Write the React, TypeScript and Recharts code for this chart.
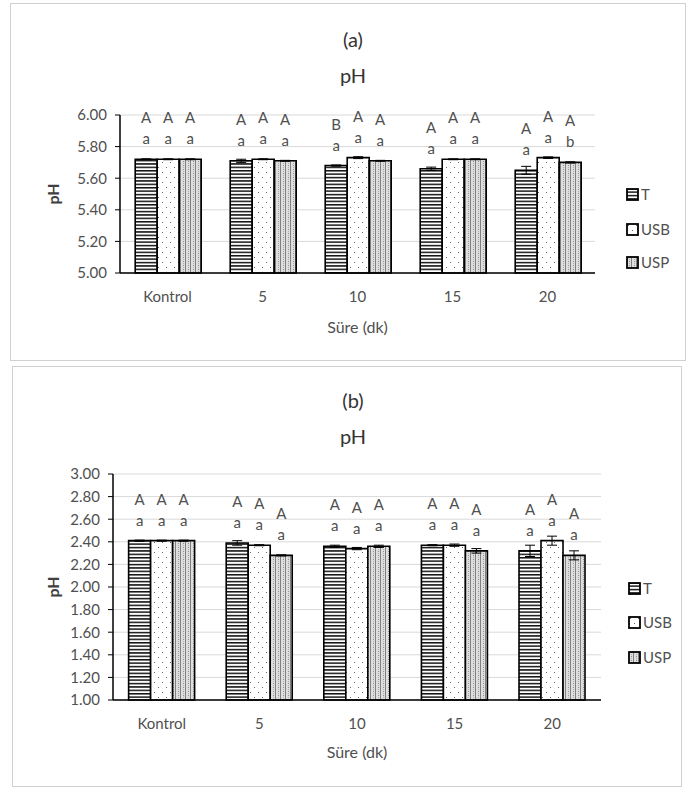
import React from "react";
import {
  BarChart,
  Bar,
  XAxis,
  YAxis,
  CartesianGrid,
  ErrorBar,
  LabelList,
  Label,
} from "recharts";

const categories = ["Kontrol", "5", "10", "15", "20"];
const seriesNames = ["T", "USB", "USP"];

// panel (a)
const aT = [5.72, 5.71, 5.68, 5.66, 5.65];
const aUSB = [5.72, 5.72, 5.73, 5.72, 5.73];
const aUSP = [5.72, 5.71, 5.71, 5.72, 5.7];
const aTErr = [0.003, 0.01, 0.004, 0.01, 0.025];
const aUSBErr = [0.003, 0.003, 0.006, 0.003, 0.005];
const aUSPErr = [0.003, 0.003, 0.003, 0.003, 0.004];
const aTUpper = ["A", "A", "B", "A", "A"];
const aUSBUpper = ["A", "A", "A", "A", "A"];
const aUSPUpper = ["A", "A", "A", "A", "A"];
const aTLower = ["a", "a", "a", "a", "a"];
const aUSBLower = ["a", "a", "a", "a", "a"];
const aUSPLower = ["a", "a", "a", "a", "b"];
const aTicks = [5.0, 5.2, 5.4, 5.6, 5.8, 6.0];

// panel (b)
const bT = [2.41, 2.39, 2.36, 2.37, 2.32];
const bUSB = [2.41, 2.37, 2.34, 2.37, 2.41];
const bUSP = [2.41, 2.28, 2.36, 2.32, 2.28];
const bTErr = [0.005, 0.02, 0.01, 0.005, 0.05];
const bUSBErr = [0.005, 0.005, 0.01, 0.01, 0.04];
const bUSPErr = [0.005, 0.005, 0.01, 0.02, 0.04];
const bTUpper = ["A", "A", "A", "A", "A"];
const bUSBUpper = ["A", "A", "A", "A", "A"];
const bUSPUpper = ["A", "A", "A", "A", "A"];
const bTLower = ["a", "a", "a", "a", "a"];
const bUSBLower = ["a", "a", "a", "a", "a"];
const bUSPLower = ["a", "a", "a", "a", "a"];
const bTicks = [1.0, 1.2, 1.4, 1.6, 1.8, 2.0, 2.2, 2.4, 2.6, 2.8, 3.0];

const buildData = (
  t: number[], usb: number[], usp: number[],
  te: number[], ue: number[], pe: number[],
  tu: string[], uu: string[], pu: string[],
  tl: string[], ul: string[], pl: string[]
) =>
  categories.map((c, i) => ({
    name: c,
    T: t[i], USB: usb[i], USP: usp[i],
    TErr: te[i], USBErr: ue[i], USPErr: pe[i],
    TLab: tu[i] + " " + tl[i],
    USBLab: uu[i] + " " + ul[i],
    USPLab: pu[i] + " " + pl[i],
  }));

const dataA = buildData(aT, aUSB, aUSP, aTErr, aUSBErr, aUSPErr,
  aTUpper, aUSBUpper, aUSPUpper, aTLower, aUSBLower, aUSPLower);
const dataB = buildData(bT, bUSB, bUSP, bTErr, bUSBErr, bUSPErr,
  bTUpper, bUSBUpper, bUSPUpper, bTLower, bUSBLower, bUSPLower);

const FONT = "Lato, 'Open Sans', sans-serif";
const GRAY = "#505050";
const patterns: Record<string, string> = { T: "patT", USB: "patUSB", USP: "patUSP" };

const letters = (props: any) => {
  const vb = props.viewBox || {};
  const x = props.x ?? vb.x;
  const y = props.y ?? vb.y;
  const w = props.width ?? vb.width;
  if (x == null || y == null) return null;
  const [up, low] = String(props.value).split(" ");
  const cx = x + w / 2;
  return (
    <g fontFamily={FONT} fontSize={15} fill={GRAY} textAnchor="middle">
      <text x={cx} y={y - 36}>{up}</text>
      <text x={cx} y={y - 15}>{low}</text>
    </g>
  );
};

function PhChart({ data, domain, ticks, top, height, margin, labelX, xLabelOffset }: any) {
  return (
    <div style={{ position: "absolute", left: 0, top }}>
      <BarChart
        width={686}
        height={height}
        data={data}
        margin={margin}
        barGap={0}
        barCategoryGap="16%"
      >
        <CartesianGrid vertical={false} stroke="#d9d9d9" />
        <XAxis
          dataKey="name"
          height={30}
          tickLine={false}
          tickMargin={12}
          axisLine={{ stroke: "#000", strokeWidth: 1.5 }}
          tick={{ fontFamily: FONT, fontSize: 15, fill: GRAY }}
        >
          <Label
            value="Süre (dk)"
            position="bottom"
            offset={xLabelOffset}
            style={{ fontFamily: FONT, fontSize: 16, fill: GRAY }}
          />
        </XAxis>
        <YAxis
          width={60}
          domain={domain}
          ticks={ticks}
          interval={0}
          tickSize={5}
          tickMargin={8}
          tickFormatter={(v: number) => v.toFixed(2)}
          axisLine={{ stroke: "#000", strokeWidth: 1.5 }}
          tickLine={{ stroke: "#000" }}
          tick={{ fontFamily: FONT, fontSize: 15, fill: GRAY }}
        >
          <Label
            content={(p: any) => {
              const vb = p.viewBox || {};
              const cy = vb.y + vb.height / 2;
              return (
                <text
                  x={labelX}
                  y={cy}
                  transform={`rotate(-90 ${labelX} ${cy})`}
                  textAnchor="middle"
                  dominantBaseline="central"
                  fontFamily={FONT}
                  fontSize={16}
                  fontWeight={700}
                  fill="#404040"
                >
                  pH
                </text>
              );
            }}
          />
        </YAxis>
        {seriesNames.map((s) => (
          <Bar
            key={s}
            dataKey={s}
            fill={`url(#${patterns[s]})`}
            stroke="#000"
            strokeWidth={1.6}
            isAnimationActive={false}
          >
            <ErrorBar dataKey={`${s}Err`} width={5} strokeWidth={1} stroke="#000" />
            <LabelList dataKey={`${s}Lab`} content={letters} />
          </Bar>
        ))}
      </BarChart>
    </div>
  );
}

function LegendBox({ left, tops }: { left: number; tops: number[] }) {
  return (
    <>
      {seriesNames.map((s, i) => (
        <div
          key={s}
          style={{
            position: "absolute",
            left,
            top: tops[i] - 9,
            height: 18,
            display: "flex",
            alignItems: "center",
            fontFamily: FONT,
            fontSize: 15,
            color: GRAY,
          }}
        >
          <svg width={13} height={13} style={{ marginRight: 2 }}>
            <rect x={1} y={1} width={11} height={11} fill={`url(#${patterns[s]})`} stroke="#000" strokeWidth={1.8} />
          </svg>
          {s}
        </div>
      ))}
    </>
  );
}

const titleStyle = (top: number): React.CSSProperties => ({
  position: "absolute",
  left: 253,
  width: 200,
  top,
  height: 24,
  lineHeight: "24px",
  textAlign: "center",
  fontFamily: FONT,
  fontSize: 20,
  color: "#333",
});

export default function App() {
  return (
    <div
      style={{
        position: "absolute",
        left: 0,
        top: 0,
        width: 686,
        height: 789,
        overflow: "hidden",
        background: "#fff",
      }}
    >
      <svg width={0} height={0} style={{ position: "absolute" }}>
        <defs>
          <pattern id="patT" patternUnits="userSpaceOnUse" width={6} height={3.4}>
            <rect width={6} height={3.4} fill="#fff" />
            <rect y={0} width={6} height={1.5} fill="#111" />
          </pattern>
          <pattern id="patUSB" patternUnits="userSpaceOnUse" width={8} height={10}>
            <rect width={8} height={10} fill="#fff" />
            <rect x={2} y={2} width={1} height={1} fill="#666" />
            <rect x={6} y={7} width={1} height={1} fill="#666" />
          </pattern>
          <pattern id="patUSP" patternUnits="userSpaceOnUse" width={5} height={4}>
            <rect width={5} height={4} fill="#dedede" />
            <rect x={0} y={0} width={1} height={4} fill="#808080" />
            <rect x={3} y={1} width={1} height={1} fill="#909090" />
            <rect x={3} y={3} width={1} height={1} fill="#b0b0b0" />
          </pattern>
        </defs>
      </svg>

      <div style={{ position: "absolute", left: 10, top: 3, width: 674, height: 356, border: "1px solid #d0d0d0" }} />
      <div style={{ position: "absolute", left: 12, top: 366, width: 668, height: 419, border: "1px solid #d0d0d0" }} />

      <div style={titleStyle(27)}>(a)</div>
      <div style={titleStyle(63)}>pH</div>
      <div style={titleStyle(388)}>(b)</div>
      <div style={titleStyle(424)}>pH</div>

      <PhChart
        data={dataA}
        domain={[5, 6]}
        ticks={aTicks}
        top={0}
        height={361}
        margin={{ top: 115, right: 91, bottom: 58, left: 60 }}
        labelX={52}
        xLabelOffset={19}
      />
      <PhChart
        data={dataB}
        domain={[1, 3]}
        ticks={bTicks}
        top={370}
        height={417}
        margin={{ top: 104, right: 85, bottom: 57, left: 53 }}
        labelX={52}
        xLabelOffset={17}
      />

      <LegendBox left={626} tops={[194, 229, 262]} />
      <LegendBox left={628} tops={[588, 622, 657]} />
    </div>
  );
}
